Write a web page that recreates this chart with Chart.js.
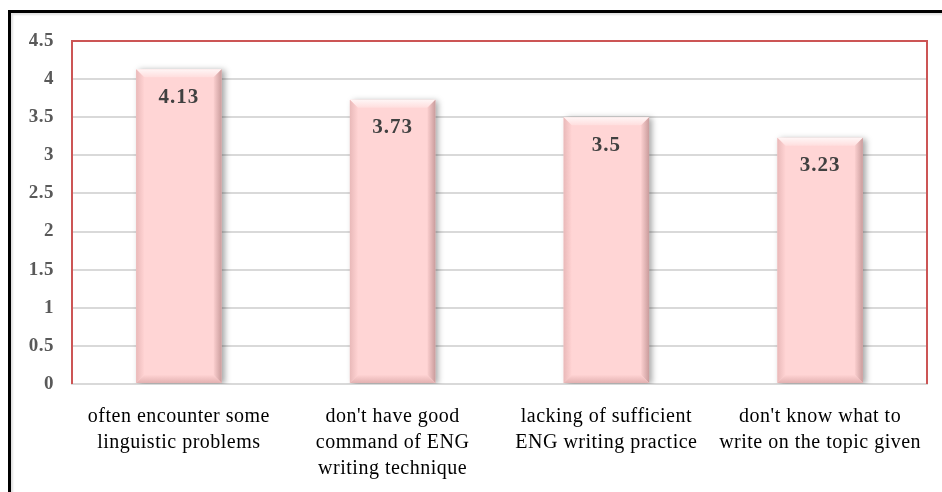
<!DOCTYPE html>
<html>
<head>
<meta charset="utf-8">
<script src="https://cdn.jsdelivr.net/npm/chart.js@4/dist/chart.umd.min.js"></script>
<style>
  html, body { margin: 0; padding: 0; background: #fff; }
  #wrap { position: relative; width: 942px; height: 492px; overflow: hidden; }
  #frame {
    position: absolute; left: 8px; top: 10px; width: 960px; height: 500px;
    border-top: 3px solid #000; border-left: 3px solid #000;
    box-shadow: inset 2px 2px 2px rgba(0,0,0,0.12);
    pointer-events: none;
  }
  #myChart { position: absolute; left: 0; top: 0; }
  #fontWarm { position: absolute; left: -999px; top: 0; font-family: 'Liberation Serif'; }
</style>
</head>
<body>
<div id="wrap">
  <canvas id="myChart" width="942" height="492"></canvas>
  <div id="frame"></div>
</div>
<span id="fontWarm">often <b>4.13</b></span>
<script>
const categories = [
  ['often encounter some', 'linguistic problems'],
  ["don't have good", 'command of ENG', 'writing technique'],
  ['lacking of sufficient', 'ENG writing practice'],
  ["don't know what to", 'write on the topic given']
];
const meanScores = [4.13, 3.73, 3.5, 3.23];
const yTicks = [0, 0.5, 1, 1.5, 2, 2.5, 3, 3.5, 4, 4.5];

const serif = 'Liberation Serif';

// slightly loose text, like the word-processor original
const spacing = {
  id: 'spacing',
  beforeUpdate(chart) { chart.ctx.letterSpacing = '0.5px'; },
  beforeDraw(chart) { chart.ctx.letterSpacing = '0.5px'; }
};

// soft drop shadow under the bars
const barShadow = {
  id: 'barShadow',
  beforeDatasetDraw(chart) {
    const ctx = chart.ctx;
    ctx.save();
    ctx.shadowColor = 'rgba(0,0,0,0.35)';
    ctx.shadowBlur = 6;
    ctx.shadowOffsetX = 3;
    ctx.shadowOffsetY = 1;
  },
  afterDatasetDraw(chart) {
    chart.ctx.restore();
  }
};

// bevelled edges + value labels on each bar
const bevelLabels = {
  id: 'bevelLabels',
  afterDatasetsDraw(chart) {
    const ctx = chart.ctx;
    const meta = chart.getDatasetMeta(0);
    const b = 8;
    meta.data.forEach(function (bar, i) {
      const l = bar.x - bar.width / 2, r = bar.x + bar.width / 2;
      const t = bar.y, bt = bar.base;
      ctx.save();
      // top
      let g = ctx.createLinearGradient(0, t, 0, t + b);
      g.addColorStop(0, '#fff6f6');
      g.addColorStop(1, '#ffdede');
      ctx.fillStyle = g;
      ctx.beginPath();
      ctx.moveTo(l, t); ctx.lineTo(r, t); ctx.lineTo(r - b, t + b); ctx.lineTo(l + b, t + b);
      ctx.closePath(); ctx.fill();
      // left
      g = ctx.createLinearGradient(l, 0, l + b, 0);
      g.addColorStop(0, '#e9b9b9');
      g.addColorStop(1, '#ffd3d3');
      ctx.fillStyle = g;
      ctx.beginPath();
      ctx.moveTo(l, t); ctx.lineTo(l + b, t + b); ctx.lineTo(l + b, bt - b); ctx.lineTo(l, bt);
      ctx.closePath(); ctx.fill();
      // right
      g = ctx.createLinearGradient(r, 0, r - b, 0);
      g.addColorStop(0, '#c99c9c');
      g.addColorStop(1, '#fbcfcf');
      ctx.fillStyle = g;
      ctx.beginPath();
      ctx.moveTo(r, t); ctx.lineTo(r - b, t + b); ctx.lineTo(r - b, bt - b); ctx.lineTo(r, bt);
      ctx.closePath(); ctx.fill();
      // bottom
      g = ctx.createLinearGradient(0, bt, 0, bt - b);
      g.addColorStop(0, '#e3b1b1');
      g.addColorStop(1, '#ffd3d3');
      ctx.fillStyle = g;
      ctx.beginPath();
      ctx.moveTo(l, bt); ctx.lineTo(r, bt); ctx.lineTo(r - b, bt - b); ctx.lineTo(l + b, bt - b);
      ctx.closePath(); ctx.fill();

      ctx.fillStyle = '#404040';
      ctx.font = 'bold 21px "' + serif + '"';
      ctx.letterSpacing = '1px';
      ctx.textAlign = 'center';
      ctx.textBaseline = 'middle';
      ctx.fillText(String(meanScores[i]), bar.x, t + 28);
      ctx.restore();
    });
  }
};

// red frame round the plot area
const plotFrame = {
  id: 'plotFrame',
  afterDraw(chart) {
    const a = chart.chartArea;
    const ctx = chart.ctx;
    ctx.save();
    ctx.strokeStyle = '#cc5555';
    ctx.lineWidth = 2;
    ctx.beginPath();
    ctx.moveTo(a.left, a.bottom);
    ctx.lineTo(a.left, a.top);
    ctx.lineTo(a.right, a.top);
    ctx.lineTo(a.right, a.bottom);
    ctx.stroke();
    ctx.restore();
  }
};

function drawChart() {
  new Chart(document.getElementById('myChart'), {
    type: 'bar',
    data: {
      labels: categories,
      datasets: [{
        data: meanScores,
        backgroundColor: '#ffd5d5',
        borderWidth: 0,
        categoryPercentage: 1,
        barPercentage: 0.4
      }]
    },
    options: {
      responsive: false,
      animation: false,
      layout: { padding: { left: 0, right: 15, top: 41, bottom: 0 } },
      plugins: { legend: { display: false }, tooltip: { enabled: false } },
      scales: {
        x: {
          grid: { display: false },
          border: { color: '#d9d9d9', width: 2 },
          ticks: {
            color: '#000',
            font: { family: serif, size: 20, lineHeight: 1.3 },
            padding: 12,
            maxRotation: 0,
            minRotation: 0,
            autoSkip: false
          },
          afterFit(s) { s.height = 108; }
        },
        y: {
          min: 0,
          max: 4.5,
          afterBuildTicks(s) { s.ticks = yTicks.map(v => ({ value: v })); },
          grid: { color: '#d9d9d9', lineWidth: 2, drawTicks: false },
          border: { display: false },
          ticks: {
            color: '#595959',
            font: { family: serif, size: 19, weight: 'bold' },
            padding: 18,
            callback: v => String(v)
          },
          afterFit(s) { s.width = 72; }
        }
      }
    },
    plugins: [spacing, barShadow, bevelLabels, plotFrame]
  });
}

Promise.all([
  document.fonts.load('20px "Liberation Serif"'),
  document.fonts.load('bold 19px "Liberation Serif"')
]).then(drawChart, drawChart);
</script>
</body>
</html>
